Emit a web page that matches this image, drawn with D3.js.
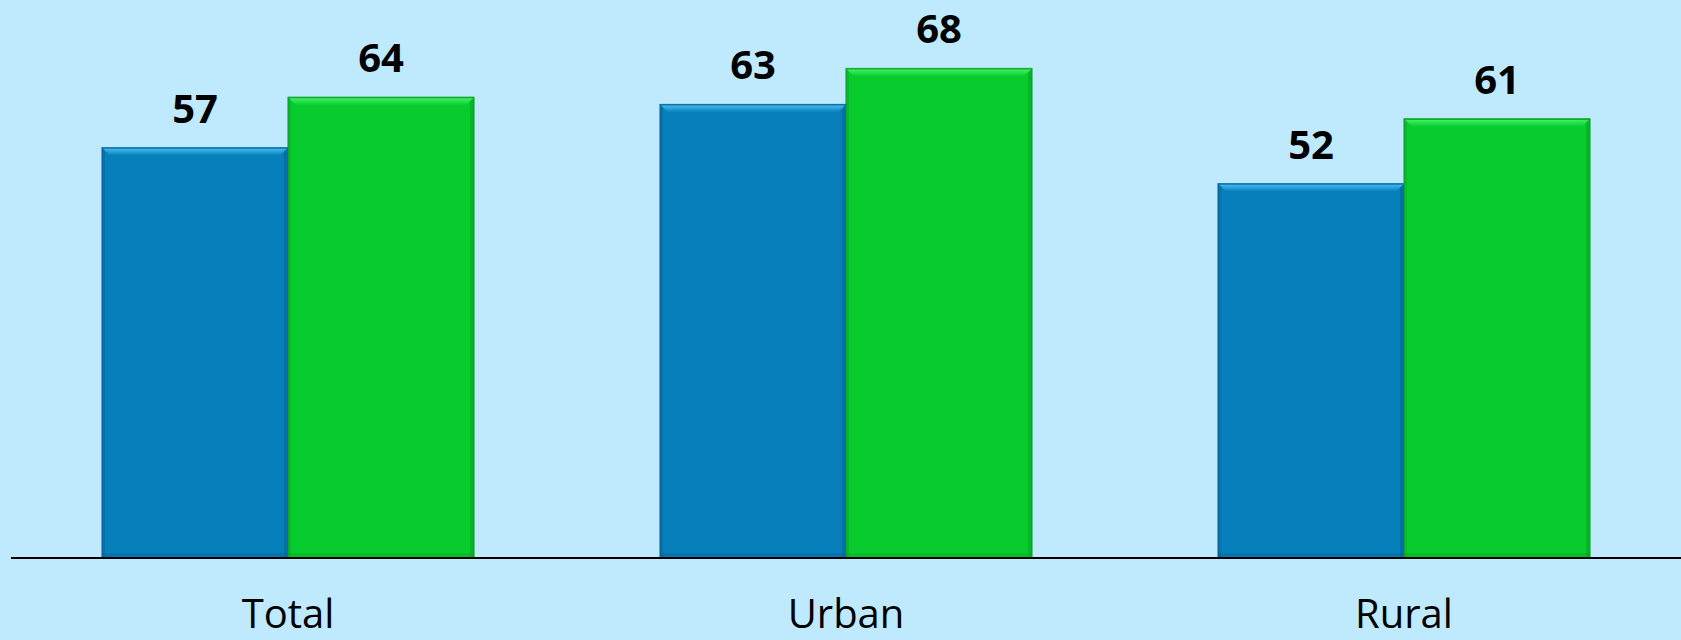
<!DOCTYPE html>
<html>
<head>
<meta charset="utf-8">
<script src="https://cdn.jsdelivr.net/npm/d3@7"></script>
<style>
  html, body { margin: 0; padding: 0; background: #bfeafd; }
  svg { display: block; }
</style>
</head>
<body>
<div id="chart-container"></div>
<script>
// chart data
const categories = ["Total", "Urban", "Rural"];
const seriesNames = ["first", "second"];
const firstValues = [57, 63, 52];
const secondValues = [64, 68, 61];

const svgWidth = 1681;
const svgHeight = 640;
const baseY = 558;

const colors = { first: "#067fbb", second: "#08cc2e" };
const lightColors = { first: "#4cc2f5", second: "#48f56a" };
const darkColors = { first: "#045f8f", second: "#069a22" };

const svg = d3.select("#chart-container")
    .append("svg")
    .attr("width", svgWidth)
    .attr("height", svgHeight);

svg.append("rect")
    .attr("width", svgWidth)
    .attr("height", svgHeight)
    .attr("fill", "#bfeafd");

// gradients for the bevel look
const defs = svg.append("defs");
seriesNames.forEach(s => {
    const g = defs.append("linearGradient")
        .attr("id", "top-" + s)
        .attr("x1", 0).attr("y1", 0).attr("x2", 0).attr("y2", 1);
    g.append("stop").attr("offset", "0%").attr("stop-color", lightColors[s]);
    g.append("stop").attr("offset", "100%").attr("stop-color", colors[s]);
});

// x scale: bands for categories, inner band for the two series
const x = d3.scaleBand()
    .domain(categories)
    .range([9, 1683])
    .padding(0);

const xInner = d3.scaleBand()
    .domain(seriesNames)
    .range([x.bandwidth() / 6, x.bandwidth() * 5 / 6])
    .padding(0);

const y = d3.scaleLinear()
    .domain([0, 77.5])
    .range([baseY, 0]);

const rows = [];
categories.forEach((c, i) => {
    rows.push({ cat: c, s: "first", v: firstValues[i] });
    rows.push({ cat: c, s: "second", v: secondValues[i] });
});

const bars = svg.selectAll(".bar")
    .data(rows)
    .enter()
    .append("g")
    .attr("class", "bar")
    .attr("transform", d => `translate(${x(d.cat) + xInner(d.s)},0)`);

const bw = xInner.bandwidth();
const bevel = 8;

// main body
bars.append("rect")
    .attr("x", 0)
    .attr("y", d => y(d.v))
    .attr("width", bw)
    .attr("height", d => baseY - y(d.v))
    .attr("fill", d => colors[d.s])
    .attr("stroke", d => darkColors[d.s])
    .attr("stroke-width", 1);

// side shading
bars.append("rect")
    .attr("x", 0)
    .attr("y", d => y(d.v))
    .attr("width", 3)
    .attr("height", d => baseY - y(d.v))
    .attr("fill", d => darkColors[d.s])
    .attr("opacity", 0.35);

bars.append("rect")
    .attr("x", bw - 4)
    .attr("y", d => y(d.v))
    .attr("width", 4)
    .attr("height", d => baseY - y(d.v))
    .attr("fill", d => darkColors[d.s])
    .attr("opacity", 0.45);

bars.append("rect")
    .attr("x", 0)
    .attr("y", baseY - 5)
    .attr("width", bw)
    .attr("height", 5)
    .attr("fill", d => darkColors[d.s])
    .attr("opacity", 0.3);

// top bevel
bars.append("path")
    .attr("d", d => {
        const t = y(d.v);
        return `M0,${t} L${bw},${t} L${bw - bevel},${t + bevel} L${bevel},${t + bevel} Z`;
    })
    .attr("fill", d => `url(#top-${d.s})`);

bars.append("line")
    .attr("x1", 0)
    .attr("x2", bw)
    .attr("y1", d => y(d.v) + 0.5)
    .attr("y2", d => y(d.v) + 0.5)
    .attr("stroke", d => darkColors[d.s])
    .attr("stroke-width", 1);

// value labels
bars.append("text")
    .text(d => d.v)
    .attr("x", bw / 2)
    .attr("y", d => y(d.v) - 25)
    .attr("text-anchor", "middle")
    .attr("font-family", "'Open Sans', sans-serif")
    .attr("font-weight", "bold")
    .attr("font-size", 40)
    .attr("fill", "#000");

// baseline axis
svg.append("line")
    .attr("x1", 11)
    .attr("x2", 1681)
    .attr("y1", baseY)
    .attr("y2", baseY)
    .attr("stroke", "#000")
    .attr("stroke-width", 2);

// category labels
svg.selectAll(".catLabel")
    .data(categories)
    .enter()
    .append("text")
    .attr("class", "catLabel")
    .text(d => d)
    .attr("x", d => x(d) + x.bandwidth() / 2)
    .attr("y", 628)
    .attr("text-anchor", "middle")
    .attr("font-family", "'Open Sans', sans-serif")
    .attr("font-size", 40)
    .attr("fill", "#000");
</script>
</body>
</html>
